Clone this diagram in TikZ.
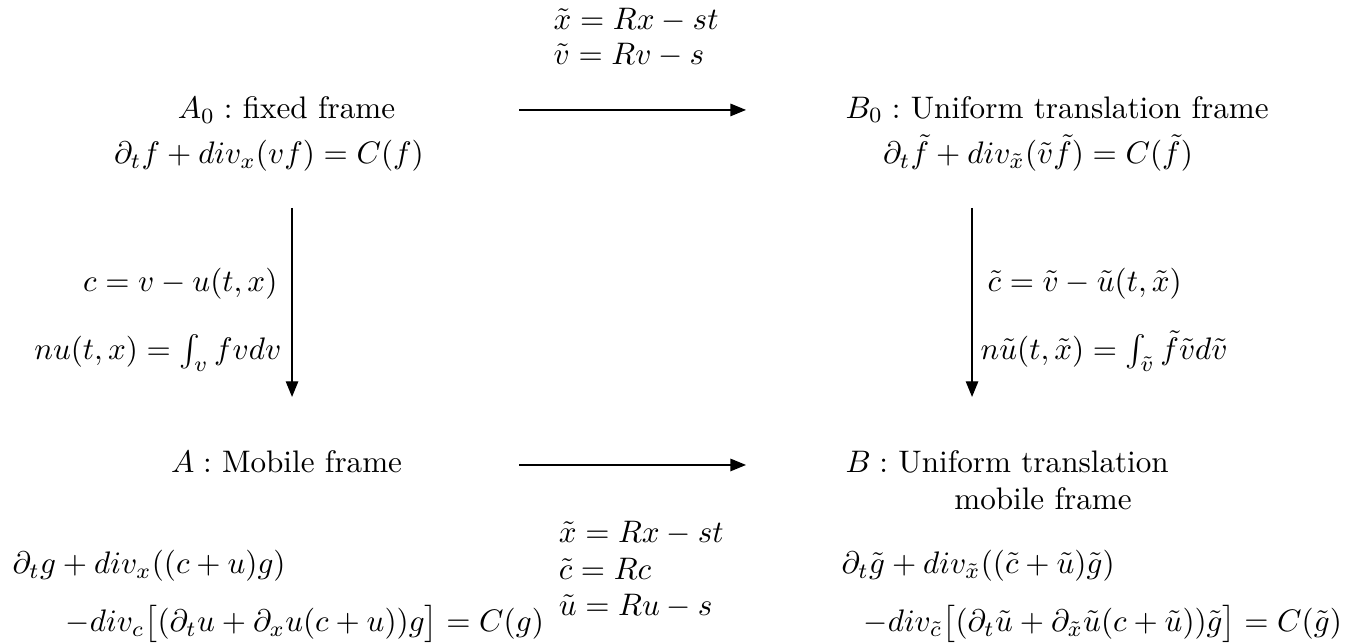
\documentclass[tikz,border=0pt]{standalone}
\usepackage{amsmath,amssymb}
\usepackage{tikz}
\usetikzlibrary{arrows.meta}

\begin{document}
\begin{tikzpicture}[>={Triangle[length=5pt,width=4pt]},
  frame/.style={inner sep=0pt,anchor=base},
  lbl/.style={inner sep=0pt,anchor=base west}]
  \useasboundingbox (0,0) rectangle (15.44,7.257);
  % the four frames
  \node[frame] (A0) at (3.234,5.914) {$A_0:$ fixed frame};
  \node[frame] (A0eq) at (3.036,5.406) {$\partial_t f + div_x(vf) = C(f)$};
  \node[frame,anchor=base west] (B0) at (9.537,5.925) {$B_0:$ Uniform translation frame};
  \node[frame] (B0eq) at (11.716,5.406) {$\partial_t \tilde f + div_{\tilde x}(\tilde v\tilde f) = C(\tilde f)$};
  \node[frame] (A) at (3.234,1.919) {$A:$ Mobile frame};
  \node[frame,anchor=base west] (Aeq1) at (0.135,0.779) {$\partial_t g + div_x((c+u)g)$};
  \node[frame,anchor=base west] (Aeq2) at (0.734,0.124) {$-div_c\big[(\partial_t u + \partial_x u(c+u))g\big] = C(g)$};
  \node[frame,anchor=base west] (B) at (9.537,1.919) {$B:$ Uniform translation};
  \node[frame] (Bb) at (11.772,1.501) {mobile frame};
  \node[frame,anchor=base west] (Beq1) at (9.492,0.779) {$\partial_t \tilde g + div_{\tilde x}((\tilde c+\tilde u)\tilde g)$};
  \node[frame,anchor=base west] (Beq2) at (9.740,0.124) {$-div_{\tilde c}\big[(\partial_t \tilde u + \partial_{\tilde x}\tilde u(c+\tilde u))\tilde g\big] = C(\tilde g)$};
  % arrow ends
  \coordinate (t1) at (5.858,6.016);
  \coordinate (t2) at (8.420,6.016);
  \coordinate (b1) at (5.858,2.009);
  \coordinate (b2) at (8.420,2.009);
  \coordinate (l1) at (3.296,4.910);
  \coordinate (l2) at (3.296,2.777);
  \coordinate (r1) at (10.971,4.910);
  \coordinate (r2) at (10.971,2.777);
  \draw[->] (t1) -- (t2);
  \draw[->] (b1) -- (b2);
  \draw[->] (l1) -- (l2);
  \draw[->] (r1) -- (r2);
  % change of variables
  \node[lbl] (tx) at (6.242,6.919) {$\tilde x = Rx - st$};
  \node[lbl] (tv) at (6.242,6.524) {$\tilde v = Rv - s$};
  \node[lbl] (bx) at (6.300,1.129) {$\tilde x = Rx - st$};
  \node[lbl] (bc) at (6.300,0.711) {$\tilde c = Rc$};
  \node[lbl] (bu) at (6.300,0.305) {$\tilde u = Ru - s$};
  \node[lbl,anchor=base east] (lc) at (3.138,3.962) {$c = v - u(t,x)$};
  \node[lbl,anchor=base east] (ln) at (3.183,3.194) {$nu(t,x) = \int_v fvdv$};
  \node[lbl] (rc) at (11.140,3.962) {$\tilde c = \tilde v - \tilde u(t,\tilde x)$};
  \node[lbl] (rn) at (11.061,3.194) {$n\tilde u(t,\tilde x) = \int_{\tilde v} \tilde f\tilde vd\tilde v$};
\end{tikzpicture}
\end{document}
